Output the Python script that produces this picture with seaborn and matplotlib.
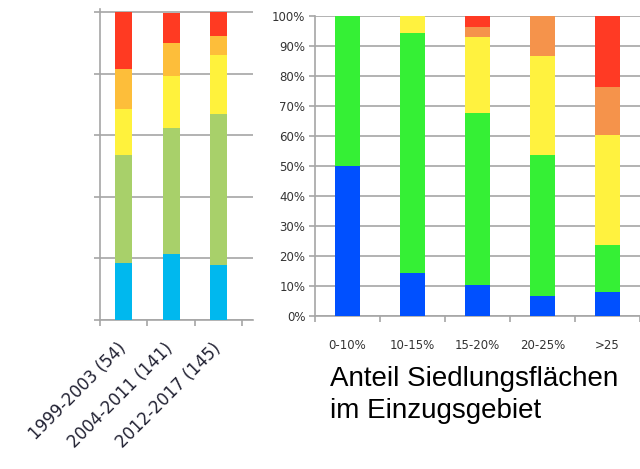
import matplotlib
matplotlib.use("Agg")
import matplotlib.pyplot as plt
import matplotlib.transforms as mtransforms
import numpy as np
import pandas as pd
import seaborn as sns

# left panel: share per period (%)
periods = ["1999-2003 (54)", "2004-2011 (141)", "2012-2017 (145)"]
left_blue = [18.5, 21.3, 17.9]
left_green = [35.2, 41.1, 49.0]
left_yellow = [14.8, 17.0, 19.3]
left_orange = [13.0, 10.6, 6.2]
left_red = [18.5, 9.9, 7.6]
left_colors = ["#00B8EE", "#A8D06A", "#FFF23C", "#FDBE3A", "#FF3A22"]

# right panel: share per settlement-area class (%)
classes = ["0-10%", "10-15%", "15-20%", "20-25%", ">25"]
right_blue = [50.0, 14.3, 10.4, 6.6, 7.8]
right_green = [50.0, 80.0, 57.0, 47.0, 15.8]
right_yellow = [0.0, 5.7, 25.4, 33.0, 36.6]
right_orange = [0.0, 0.0, 3.3, 13.4, 15.9]
right_red = [0.0, 0.0, 3.9, 0.0, 23.9]
right_colors = ["#0050FF", "#35F035", "#FFF23F", "#F5934B", "#FF3A24"]

y_ticks = list(range(0, 101, 10))
y_labels = [f"{v}%" for v in y_ticks]

GRID = "#a6a6a6"
W, H = 640, 469

sns.set_style("white")
fig = plt.figure(figsize=(6.4, 4.69), dpi=100)


def stacked(ax, cats, layers, colors, width):
    # draw cumulative totals top layer first so lower layers overlay them
    cum = np.cumsum(np.array(layers), axis=0)
    for vals, col in zip(cum[::-1], colors[::-1]):
        df = pd.DataFrame({"cat": cats, "val": vals})
        sns.barplot(data=df, x="cat", y="val", order=cats, color=col,
                    saturation=1, width=width, errorbar=None, linewidth=0,
                    ax=ax, zorder=3)


def style_axes(ax, n, xmax, ymax=100):
    ax.set_xlim(-0.5, xmax)
    ax.set_ylim(0, ymax)
    ax.set_xlabel("")
    ax.set_ylabel("")
    for s in ["top", "right"]:
        ax.spines[s].set_visible(False)
    for s in ["left", "bottom"]:
        ax.spines[s].set_color(GRID)
        ax.spines[s].set_linewidth(1.2)
    ax.yaxis.grid(True, color=GRID, lw=1.2, zorder=0)
    ax.set_axisbelow(True)
    ax.set_xticks(np.arange(-0.5, n, 1.0), minor=True)
    ax.tick_params(axis="x", which="major", length=0, bottom=True)
    ax.tick_params(axis="x", which="minor", length=4, width=1.2, color=GRID,
                   direction="out", bottom=True)
    ax.tick_params(axis="y", length=4, width=1.2, color=GRID, direction="out",
                   left=True)


# left panel (bars run a touch above the 100 gridline in the source)
axl = fig.add_axes([100 / W, 1 - 320 / H, 153 / W, (320 - 9) / H])
stacked(axl, periods,
        [left_blue, left_green, left_yellow, left_orange, left_red],
        left_colors, 0.36)
style_axes(axl, 3, 2.73, ymax=101.1)
axl.set_yticks(range(0, 101, 20))
axl.set_yticklabels([])
axl.tick_params(axis="x", which="major", pad=14, labelsize=12,
                labelcolor="#222233")
off = mtransforms.ScaledTranslation(6 / 100, 0, fig.dpi_scale_trans)
for lab in axl.get_xticklabels():
    lab.set_rotation(45)
    lab.set_ha("right")
    lab.set_transform(lab.get_transform() + off)

# right panel
axr = fig.add_axes([315 / W, 1 - 315.7 / H, (640 - 315) / W, 300 / H])
stacked(axr, classes,
        [right_blue, right_green, right_yellow, right_orange, right_red],
        right_colors, 0.39)
style_axes(axr, 5, -0.5 + (640 - 315) / 66.7)
axr.set_yticks(y_ticks)
axr.set_yticklabels(y_labels)
axr.tick_params(axis="y", labelsize=8.5, labelcolor="#333333", pad=3)
axr.tick_params(axis="x", which="major", labelsize=8.5, labelcolor="#333333",
                pad=17)

fig.text(330 / W, 1 - 366 / H, "Anteil Siedlungsflächen\nim Einzugsgebiet",
         fontsize=20, family="Liberation Sans", va="top", ha="left",
         linespacing=1.3, color="black")

fig.savefig("out.png", dpi=100)
